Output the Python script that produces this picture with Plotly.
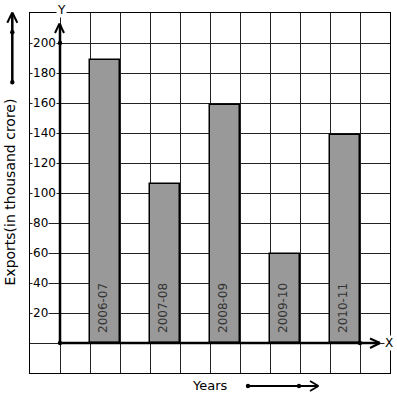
import plotly.graph_objects as go

# ---- data ----
years = ["2006-07", "2007-08", "2008-09", "2009-10", "2010-11"]
exports = [189, 106, 159, 59.5, 139]
ytick_vals = [20, 40, 60, 80, 100, 120, 140, 160, 180, 200]

W, H = 397, 399
ML, MR, MT, MB = 30, 7, 13, 26
PW = W - ML - MR
PH = H - MT - MB
FONT = "DejaVu Sans"


def pxp(x):
    return (x - ML) / PW


def pyp(y):
    return (H - MB - y) / PH


bar_x = [1.5 + 2 * i for i in range(len(years))]

fig = go.Figure()
fig.add_trace(go.Bar(
    x=bar_x, y=exports, width=1,
    marker=dict(color="rgb(153,153,153)", line=dict(color="black", width=1.5)),
    hoverinfo="skip", showlegend=False,
))

shapes = []
# thick axes
shapes.append(dict(type="line", xref="x", yref="y", x0=0, x1=0, y0=0, y1=(343 - 24) / 1.5,
                   line=dict(color="black", width=2.5)))
shapes.append(dict(type="line", xref="x", yref="y", x0=0, x1=(380 - 60) / 30, y0=0, y1=0,
                   line=dict(color="black", width=2.5)))


def seg(x0, y0, x1, y1, w=2.5):
    shapes.append(dict(type="line", xref="paper", yref="paper",
                       x0=pxp(x0), y0=pyp(y0), x1=pxp(x1), y1=pyp(y1),
                       line=dict(color="black", width=w)))


def dot(x, y, r=2.2):
    shapes.append(dict(type="circle", xref="paper", yref="paper",
                       x0=pxp(x - r), x1=pxp(x + r), y0=pyp(y - r), y1=pyp(y + r),
                       fillcolor="black", line=dict(color="black", width=0)))


# y axis arrowhead
seg(55, 33, 59.5, 23.5, 2)
seg(64, 33, 59.5, 23.5, 2)
# x axis arrowhead
seg(370, 338.5, 380, 343, 2)
seg(370, 348, 380, 343, 2)
dot(60, 43)
dot(60, 343)
dot(360, 343)
# top-left arrow
seg(12.3, 13, 12.3, 82.3, 2.5)
seg(7.3, 22.7, 12.3, 12.5, 2)
seg(17.3, 22.7, 12.3, 12.5, 2)
dot(12.3, 32.3)
dot(12.3, 82.3)
# bottom arrow
seg(248, 386, 318, 386, 2)
seg(310, 381, 318.5, 386, 1.8)
seg(310, 391, 318.5, 386, 1.8)
dot(248, 386)
dot(299, 386)

annotations = []
for v in ytick_vals:
    annotations.append(dict(x=-1, y=v, xref="x", yref="y", text=str(v), showarrow=False,
                            xanchor="left", yanchor="middle", xshift=1.5,
                            bgcolor="white", borderpad=0,
                            font=dict(family=FONT, size=12, color="black")))
for xv, lab in zip(bar_x, years):
    annotations.append(dict(x=xv, y=0, xref="x", yref="y", text=lab, showarrow=False,
                            textangle=-90, xanchor="center", yanchor="bottom", yshift=8,
                            xshift=-2, font=dict(family=FONT, size=12, color="#333")))
annotations.append(dict(x=pxp(61), y=pyp(10), xref="paper", yref="paper", text="Y",
                        showarrow=False, xanchor="center", yanchor="middle", bgcolor="white",
                        borderpad=0, font=dict(family=FONT, size=12, color="black")))
annotations.append(dict(x=pxp(388.5), y=pyp(343), xref="paper", yref="paper", text="X",
                        showarrow=False, xanchor="center", yanchor="middle", bgcolor="white",
                        borderpad=0, font=dict(family=FONT, size=12, color="black")))
annotations.append(dict(x=pxp(210), y=pyp(385), xref="paper", yref="paper", text="Years",
                        showarrow=False, xanchor="center", yanchor="middle",
                        font=dict(family=FONT, size=13, color="black")))
annotations.append(dict(x=pxp(9), y=pyp(192.5), xref="paper", yref="paper",
                        text="Exports(in thousand crore)", textangle=-90,
                        showarrow=False, xanchor="center", yanchor="middle",
                        font=dict(family=FONT, size=14, color="black")))

fig.update_layout(
    width=W, height=H,
    margin=dict(l=ML, r=MR, t=MT, b=MB, pad=0),
    paper_bgcolor="white", plot_bgcolor="white",
    shapes=shapes, annotations=annotations,
    xaxis=dict(range=[-1, 11], tick0=0, dtick=1, showgrid=True, gridcolor="#222", gridwidth=1,
               zeroline=False, showticklabels=False, ticks="", showline=True,
               linecolor="black", linewidth=1, mirror=True, fixedrange=True),
    yaxis=dict(range=[-20, 220], tick0=0, dtick=20, showgrid=True, gridcolor="#222", gridwidth=1,
               zeroline=False, showticklabels=False, ticks="", showline=True,
               linecolor="black", linewidth=1, mirror=True, fixedrange=True),
    bargap=0,
)

fig.write_html("out.html", config={"displayModeBar": False},
               post_script="document.body.style.margin='0';document.body.style.overflow='hidden';")
